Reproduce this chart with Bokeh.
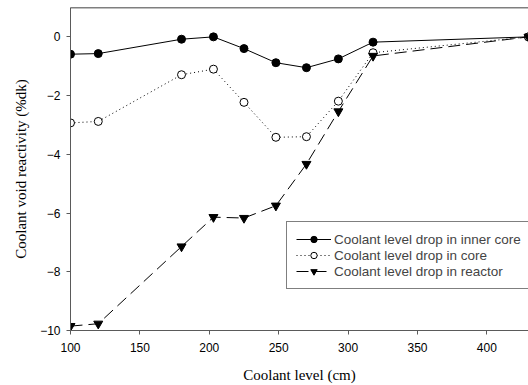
from bokeh.plotting import figure
from bokeh.models import Range1d, Span, Legend, LegendItem, FixedTicker
from bokeh.embed import file_html
from bokeh.resources import INLINE

levels = [100, 120, 180, 203, 225, 248, 270, 293, 318, 430]
inner_core = [-0.59, -0.57, -0.08, 0.0, -0.40, -0.88, -1.05, -0.75, -0.18, 0.0]
core = [-2.93, -2.88, -1.29, -1.10, -2.23, -3.42, -3.40, -2.19, -0.54, 0.0]
reactor = [-9.85, -9.77, -7.14, -6.14, -6.17, -5.75, -4.33, -2.54, -0.65, 0.0]
x_ticks = [100, 150, 200, 250, 300, 350, 400]
y_ticks = [0, -2, -4, -6, -8, -10]
labels = ["Coolant level drop in inner core", "Coolant level drop in core", "Coolant level drop in reactor"]

p = figure(width=528, height=385, output_backend="svg", toolbar_location=None,
           x_range=Range1d(100, 430), y_range=Range1d(-10, 1),
           min_border_left=70, min_border_right=0, min_border_top=7, min_border_bottom=55)
p.outline_line_color = None
p.grid.visible = False
p.background_fill_color = "white"

axis_color = "#5a5a5a"
for ax in (p.xaxis[0], p.yaxis[0]):
    ax.axis_line_color = axis_color
    ax.major_tick_line_color = axis_color
    ax.minor_tick_line_color = None
    ax.major_tick_out = 4
    ax.major_tick_in = 0
    ax.major_label_text_font = "Liberation Sans"
    ax.major_label_text_font_size = "12px"
    ax.major_label_text_color = "black"
    ax.axis_label_text_font = "Liberation Serif"
    ax.axis_label_text_font_size = "15px"
    ax.axis_label_text_font_style = "normal"
    ax.axis_label_text_color = "black"

p.xaxis.ticker = FixedTicker(ticks=x_ticks)
p.yaxis.ticker = FixedTicker(ticks=y_ticks)
p.xaxis.axis_label = "Coolant level (cm)"
p.yaxis.axis_label = "Coolant void reactivity (%dk)"
p.xaxis.major_label_standoff = 8
p.xaxis.axis_label_standoff = 12
p.yaxis.major_label_standoff = 6
p.yaxis.axis_label_standoff = 8

p.add_layout(Span(location=1, dimension="width", line_color="black", line_width=1.5))

l1 = p.line(levels, inner_core, line_color="black", line_width=1)
m1 = p.scatter(levels, inner_core, marker="circle", size=8, fill_color="black", line_color="black")
l2 = p.line(levels, core, line_color="black", line_width=1, line_dash="1 3")
m2 = p.scatter(levels, core, marker="circle", size=8, fill_color="white", line_color="black")
l3 = p.line(levels, reactor, line_color="black", line_width=1, line_dash="12 6")
m3 = p.scatter(levels, reactor, marker="inverted_triangle", size=9, fill_color="black", line_color="black")

legend = Legend(items=[LegendItem(label=labels[0], renderers=[l1, m1]),
                       LegendItem(label=labels[1], renderers=[l2, m2]),
                       LegendItem(label=labels[2], renderers=[l3, m3])],
                location=(216, 41))
legend.border_line_color = "black"
legend.border_line_width = 1
legend.background_fill_color = "white"
legend.label_text_font = "Liberation Sans"
legend.label_text_font_size = "13.5px"
legend.glyph_width = 35
legend.glyph_height = 16
legend.label_height = 16
legend.spacing = 0
legend.padding = 9
legend.margin = 0
legend.label_standoff = 3
p.add_layout(legend)

open("out.html", "w").write(file_html(p, INLINE))
